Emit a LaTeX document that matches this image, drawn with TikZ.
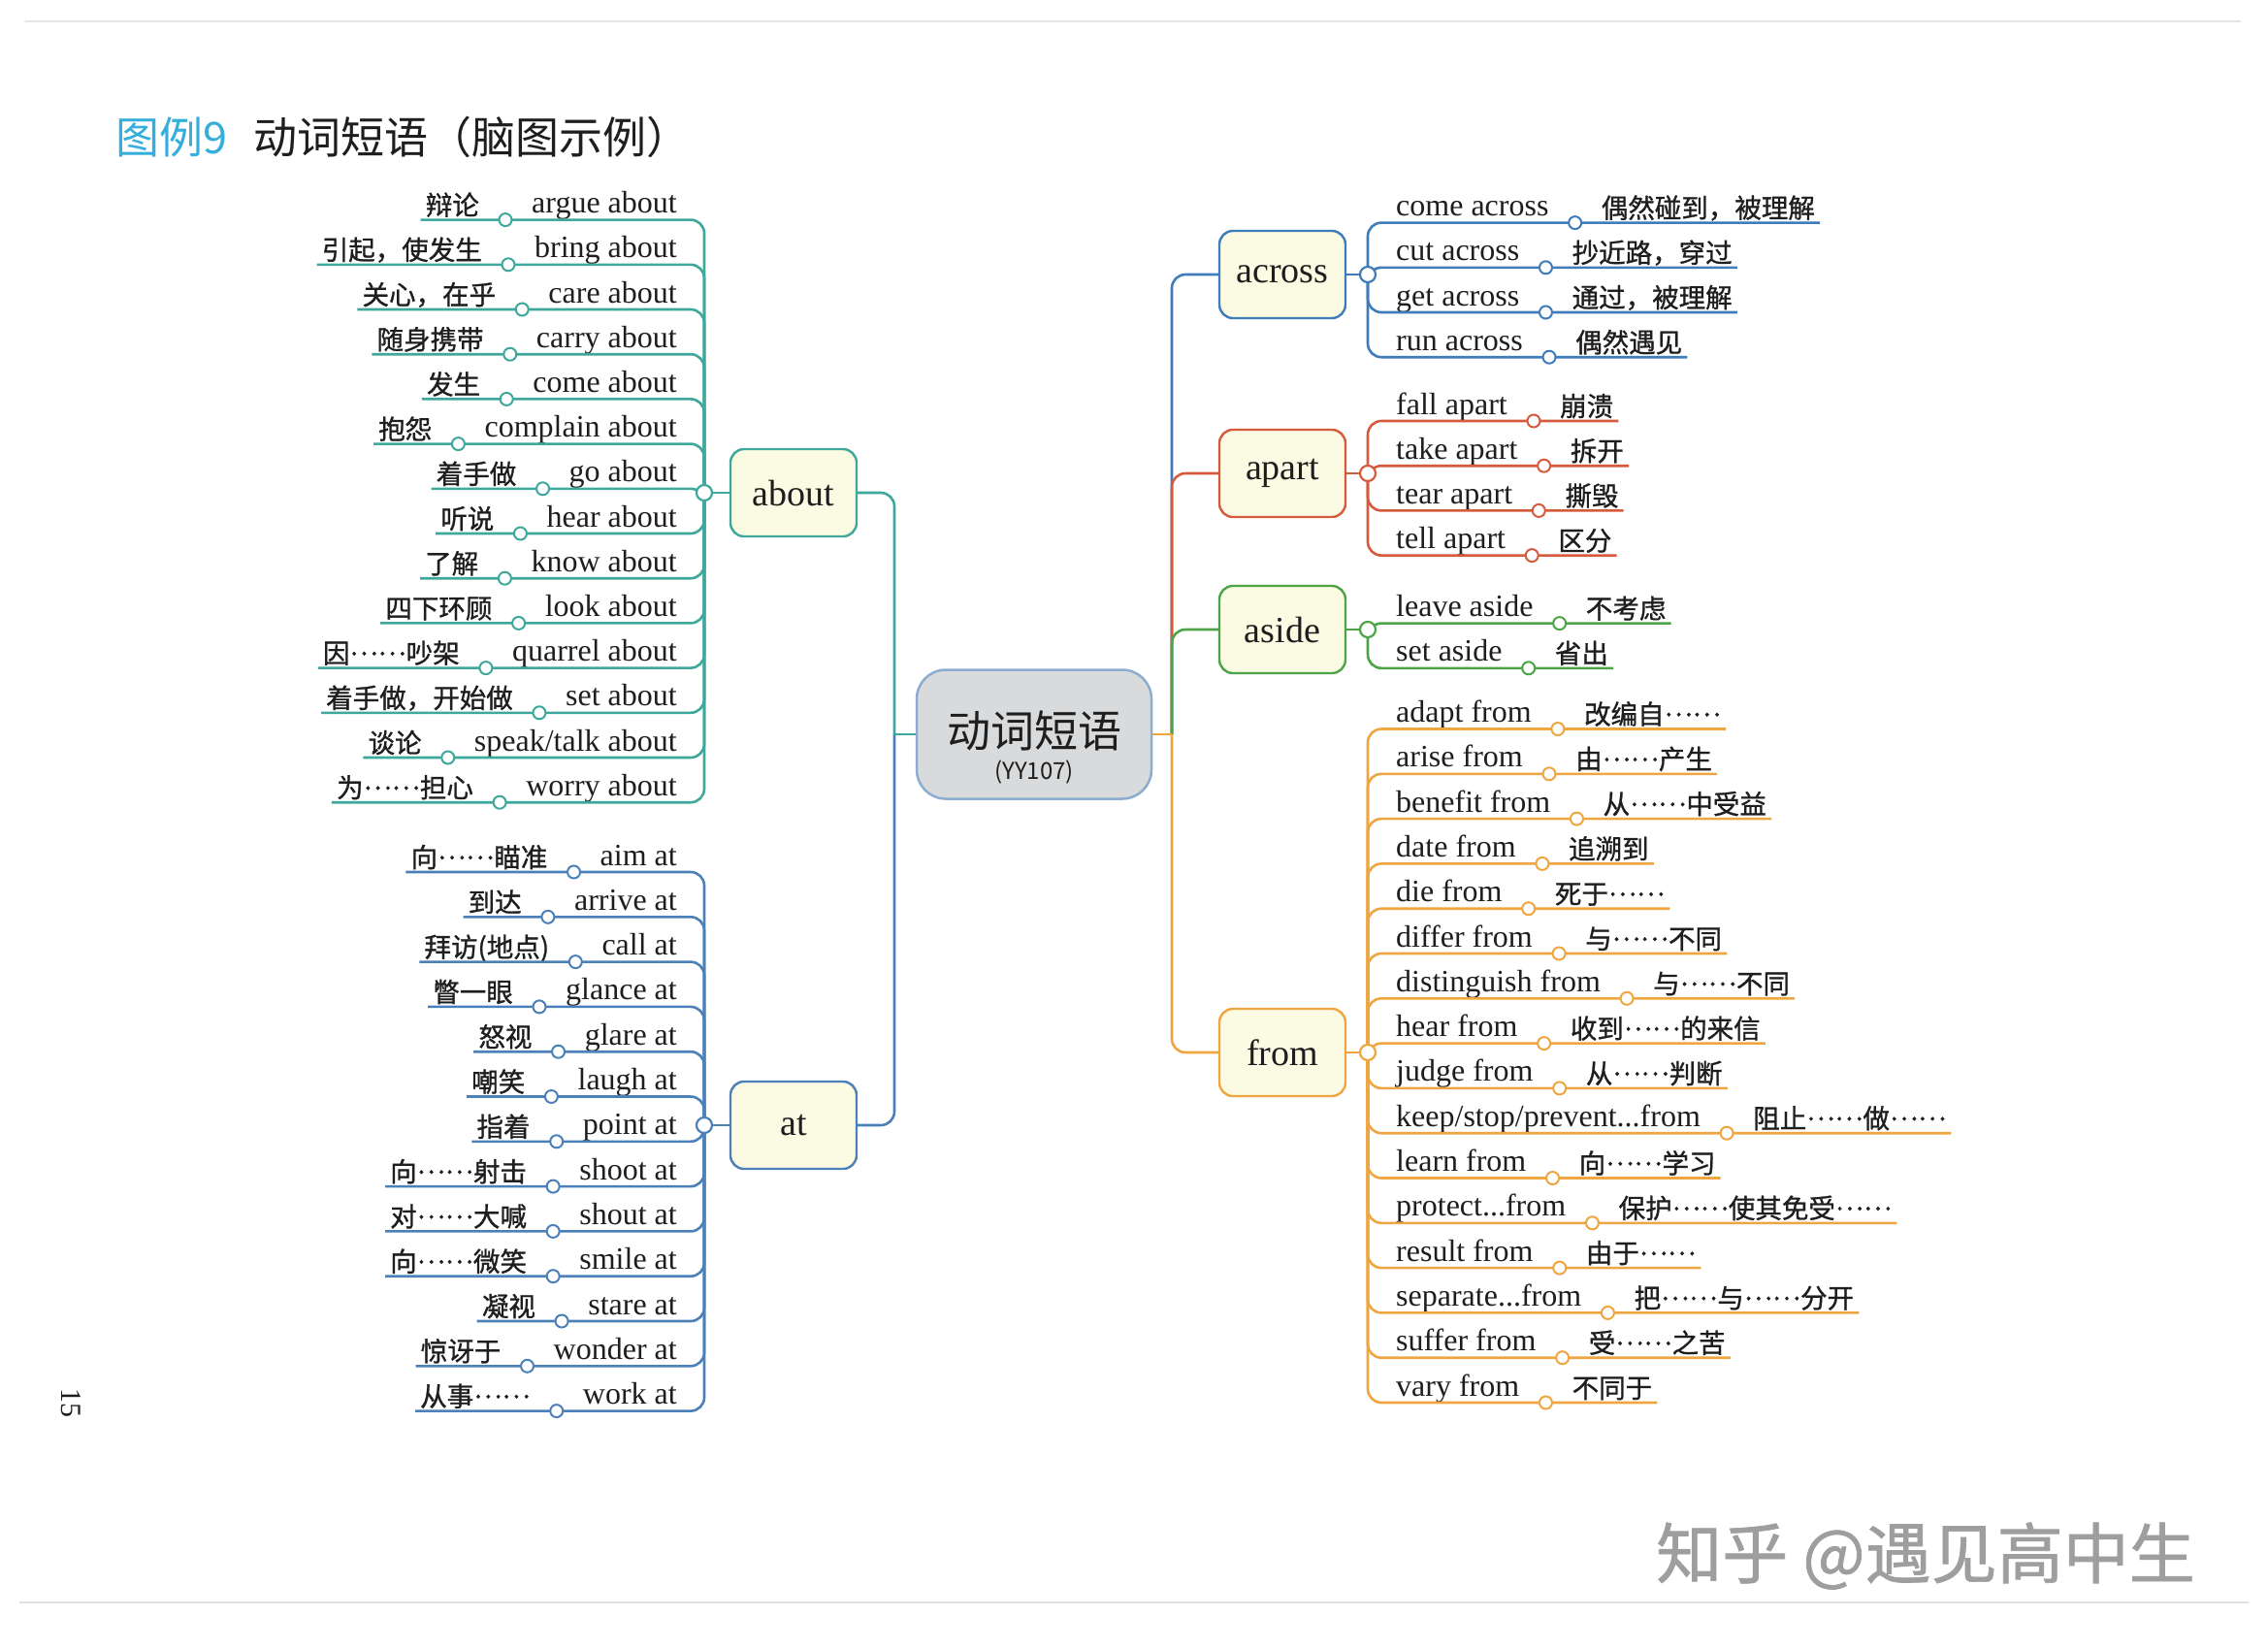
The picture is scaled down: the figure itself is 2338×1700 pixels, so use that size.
\documentclass[tikz,border=0pt]{standalone}
\usepackage{fontspec}
\setmainfont{Liberation Serif}
\newfontfamily\cjk{Noto Sans CJK SC}
\newfontfamily\cjkb[FakeBold=1]{Noto Sans CJK SC}
\usetikzlibrary{calc}
\definecolor{cabout}{HTML}{3DA89B}
\definecolor{catc}{HTML}{4C80B8}
\definecolor{cacross}{HTML}{3F7CBA}
\definecolor{capart}{HTML}{D65A3C}
\definecolor{caside}{HTML}{4DA446}
\definecolor{cfrom}{HTML}{EFA540}
\definecolor{boxfill}{HTML}{FBFAE2}
\definecolor{rootfill}{HTML}{D8DADC}
\definecolor{rootdraw}{HTML}{8CADD0}
\definecolor{titlecyan}{HTML}{36AEDB}
\definecolor{ink}{HTML}{1E1E1E}
\newcommand\md{\raisebox{0.3em}{……}}
\tikzset{
  entext/.style={inner sep=0pt, text=ink, font=\fontsize{32}{36}\selectfont},
  zhtext/.style={inner sep=0pt, text=ink, font=\cjkb\fontsize{27.5}{30}\selectfont},
  brline/.style={line width=2.6pt, rounded corners=14pt},
  knob/.style={circle, fill=white, line width=2pt, minimum size=13pt, inner sep=0pt},
  jknob/.style={circle, fill=white, line width=2.2pt, minimum size=16pt, inner sep=0pt},
  catbox/.style={rounded corners=14pt, fill=boxfill, line width=2.4pt, minimum width=130pt, minimum height=90pt, inner sep=0pt, text=ink, font=\fontsize{38}{40}\selectfont},
}
% left row: name, y of underline, english, chinese, colour, joint
\newcommand\Lrow[6]{%
  \node[entext, anchor=base east] (#1e) at (698,#2-7) {#3};
  \coordinate (#1p) at ([xshift=-27pt,yshift=-7pt]#1e.base west);
  \node[zhtext, anchor=base east] (#1z) at ([xshift=-27pt,yshift=5pt]#1p) {#4};
  \draw[brline,#5] (#6) |- ([xshift=-5pt,yshift=-5pt]#1z.base west);
  \node[knob,draw=#5] (#1c) at (#1p) {};
}
% right row
\newcommand\Rrow[6]{%
  \node[entext, anchor=base west] (#1e) at (1439,#2-7) {#3};
  \coordinate (#1p) at ([xshift=27pt,yshift=-7pt]#1e.base east);
  \node[zhtext, anchor=base west] (#1z) at ([xshift=27pt,yshift=5pt]#1p) {#4};
  \draw[brline,#5] (#6) |- ([xshift=5pt,yshift=-5pt]#1z.base east);
  \node[knob,draw=#5] (#1c) at (#1p) {};
}
\begin{document}
\begin{tikzpicture}[x=1pt,y=-1pt]
\useasboundingbox (0,0) rectangle (2338,1700);
\fill[white] (0,0) rectangle (2338,1700);
\draw[black!10, line width=2pt] (25,22) -- (2310,22);
\draw[black!12, line width=2pt] (20,1652) -- (2318,1652);

% title
\node[anchor=west, inner sep=0pt, text=titlecyan, font=\cjk\fontsize{45}{50}\selectfont] (tnum) at (119,141) {图例9};
\node[anchor=west, inner sep=0pt, text=ink, font=\cjk\fontsize{45}{50}\selectfont] (ttitle) at (261,141) {动词短语（脑图示例）};

% central node
\node[rounded corners=30pt, fill=rootfill, draw=rootdraw, line width=2.5pt, minimum width=242pt, minimum height=133pt, align=center, text=ink, inner sep=0pt, text depth=0pt] (root) at (1066,757)
  {\raisebox{8pt}{\begin{tabular}{@{}c@{}}\cjk\fontsize{45}{50}\selectfont 动词短语\\[10pt]\cjk\fontsize{24}{28}\selectfont (YY107)\end{tabular}}};

% category boxes
\node[catbox, draw=cabout] (about) at (818,508) {about};
\node[catbox, draw=catc] (at) at (818,1160) {at};
\node[catbox, draw=cacross] (across) at (1322,283) {across};
\node[catbox, draw=capart] (apart) at (1322,488) {apart};
\node[catbox, draw=caside] (aside) at (1322,649) {aside};
\node[catbox, draw=cfrom] (from) at (1322,1085) {from};

% central connectors
\coordinate (lj) at (922,757);
\coordinate (rj) at (1208,757);
\draw[brline,cabout] (about.east) -| (lj);
\draw[brline,catc] (at.east) -| (lj);
\draw[line width=2.6pt,cabout] (lj) -- (root.west);
\draw[brline,cacross] (rj) |- (across.west);
\draw[brline,capart] (rj) |- (apart.west);
\draw[brline,caside] (rj) |- (aside.west);
\draw[brline,cfrom] (rj) |- (from.west);
\draw[line width=2.6pt,cfrom] (root.east) -- (rj);

% joints
\coordinate (abJ) at (726,508);
\coordinate (atJ) at (726,1160);
\coordinate (acJ) at (1410,283);
\coordinate (apJ) at (1410,488);
\coordinate (asJ) at (1410,649);
\coordinate (frJ) at (1410,1085);
\draw[line width=2.6pt,cabout] (about.west) -- (abJ);
\draw[line width=2.6pt,catc] (at.west) -- (atJ);
\draw[line width=2.6pt,cacross] (across.east) -- (acJ);
\draw[line width=2.6pt,capart] (apart.east) -- (apJ);
\draw[line width=2.6pt,caside] (aside.east) -- (asJ);
\draw[line width=2.6pt,cfrom] (from.east) -- (frJ);

% about rows
\Lrow{ab0}{226.6}{argue about}{辩论}{cabout}{abJ}
\Lrow{ab1}{272.8}{bring about}{引起，使发生}{cabout}{abJ}
\Lrow{ab2}{319.0}{care about}{关心，在乎}{cabout}{abJ}
\Lrow{ab3}{365.2}{carry about}{随身携带}{cabout}{abJ}
\Lrow{ab4}{411.4}{come about}{发生}{cabout}{abJ}
\Lrow{ab5}{457.6}{complain about}{抱怨}{cabout}{abJ}
\Lrow{ab6}{503.8}{go about}{着手做}{cabout}{abJ}
\Lrow{ab7}{550.0}{hear about}{听说}{cabout}{abJ}
\Lrow{ab8}{596.2}{know about}{了解}{cabout}{abJ}
\Lrow{ab9}{642.4}{look about}{四下环顾}{cabout}{abJ}
\Lrow{ab10}{688.6}{quarrel about}{因\md 吵架}{cabout}{abJ}
\Lrow{ab11}{734.8}{set about}{着手做，开始做}{cabout}{abJ}
\Lrow{ab12}{781.0}{speak/talk about}{谈论}{cabout}{abJ}
\Lrow{ab13}{827.2}{worry about}{为\md 担心}{cabout}{abJ}

% at rows
\Lrow{at0}{899.0}{aim at}{向\md 瞄准}{catc}{atJ}
\Lrow{at1}{945.3}{arrive at}{到达}{catc}{atJ}
\Lrow{at2}{991.6}{call at}{拜访(地点)}{catc}{atJ}
\Lrow{at3}{1037.9}{glance at}{瞥一眼}{catc}{atJ}
\Lrow{at4}{1084.2}{glare at}{怒视}{catc}{atJ}
\Lrow{at5}{1130.5}{laugh at}{嘲笑}{catc}{atJ}
\Lrow{at6}{1176.8}{point at}{指着}{catc}{atJ}
\Lrow{at7}{1223.1}{shoot at}{向\md 射击}{catc}{atJ}
\Lrow{at8}{1269.4}{shout at}{对\md 大喊}{catc}{atJ}
\Lrow{at9}{1315.7}{smile at}{向\md 微笑}{catc}{atJ}
\Lrow{at10}{1362.0}{stare at}{凝视}{catc}{atJ}
\Lrow{at11}{1408.3}{wonder at}{惊讶于}{catc}{atJ}
\Lrow{at12}{1454.6}{work at}{从事\md}{catc}{atJ}

% across rows
\Rrow{ac0}{229.6}{come across}{偶然碰到，被理解}{cacross}{acJ}
\Rrow{ac1}{275.8}{cut across}{抄近路，穿过}{cacross}{acJ}
\Rrow{ac2}{322.0}{get across}{通过，被理解}{cacross}{acJ}
\Rrow{ac3}{368.2}{run across}{偶然遇见}{cacross}{acJ}

% apart rows
\Rrow{ap0}{434.0}{fall apart}{崩溃}{capart}{apJ}
\Rrow{ap1}{480.2}{take apart}{拆开}{capart}{apJ}
\Rrow{ap2}{526.4}{tear apart}{撕毁}{capart}{apJ}
\Rrow{ap3}{572.6}{tell apart}{区分}{capart}{apJ}

% aside rows
\Rrow{as0}{642.6}{leave aside}{不考虑}{caside}{asJ}
\Rrow{as1}{688.8}{set aside}{省出}{caside}{asJ}

% from rows
\Rrow{fr0}{751.5}{adapt from}{改编自\md}{cfrom}{frJ}
\Rrow{fr1}{797.8}{arise from}{由\md 产生}{cfrom}{frJ}
\Rrow{fr2}{844.1}{benefit from}{从\md 中受益}{cfrom}{frJ}
\Rrow{fr3}{890.4}{date from}{追溯到}{cfrom}{frJ}
\Rrow{fr4}{936.7}{die from}{死于\md}{cfrom}{frJ}
\Rrow{fr5}{983.0}{differ from}{与\md 不同}{cfrom}{frJ}
\Rrow{fr6}{1029.3}{distinguish from}{与\md 不同}{cfrom}{frJ}
\Rrow{fr7}{1075.6}{hear from}{收到\md 的来信}{cfrom}{frJ}
\Rrow{fr8}{1121.9}{judge from}{从\md 判断}{cfrom}{frJ}
\Rrow{fr9}{1168.2}{keep/stop/prevent...from}{阻止\md 做\md}{cfrom}{frJ}
\Rrow{fr10}{1214.5}{learn from}{向\md 学习}{cfrom}{frJ}
\Rrow{fr11}{1260.8}{protect...from}{保护\md 使其免受\md}{cfrom}{frJ}
\Rrow{fr12}{1307.1}{result from}{由于\md}{cfrom}{frJ}
\Rrow{fr13}{1353.4}{separate...from}{把\md 与\md 分开}{cfrom}{frJ}
\Rrow{fr14}{1399.7}{suffer from}{受\md 之苦}{cfrom}{frJ}
\Rrow{fr15}{1446.0}{vary from}{不同于}{cfrom}{frJ}

% joint knobs on top
\node[jknob,draw=cabout] (abJc) at (abJ) {};
\node[jknob,draw=catc] (atJc) at (atJ) {};
\node[jknob,draw=cacross] (acJc) at (acJ) {};
\node[jknob,draw=capart] (apJc) at (apJ) {};
\node[jknob,draw=caside] (asJc) at (asJ) {};
\node[jknob,draw=cfrom] (frJc) at (frJ) {};

% page number and watermark
\node[rotate=-90, inner sep=0pt, text=ink, font=\fontsize{30}{32}\selectfont] (pnum) at (73,1446) {15};
\node[anchor=west, inner sep=0pt, text=black!38, font=\cjkb\fontsize{68}{74}\selectfont] (wm) at (1707,1604) {知乎 @遇见高中生};
\end{tikzpicture}
\end{document}
